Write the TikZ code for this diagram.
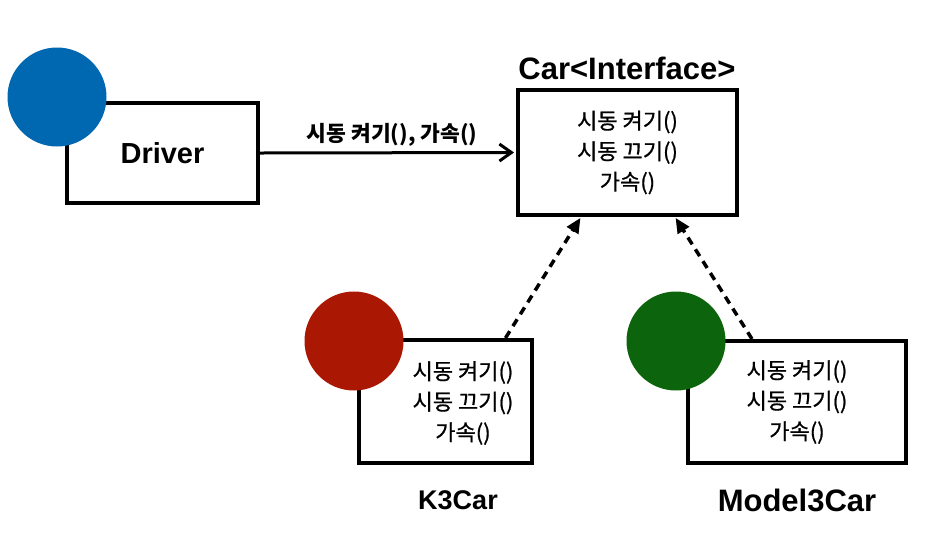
\documentclass[tikz,border=0pt]{standalone}
\usepackage{fontspec}
\setmainfont{Liberation Sans}
\newfontfamily\kr[FakeBold=0.8]{Noto Sans CJK KR}
\newfontfamily\krb{Noto Sans CJK KR}
\usetikzlibrary{arrows.meta}
\definecolor{dotblue}{RGB}{0,103,177}
\definecolor{dotred}{RGB}{170,24,3}
\definecolor{dotgreen}{RGB}{12,100,12}
\begin{document}
\begin{tikzpicture}[x=1pt,y=-1pt,
  box/.style={draw=black,line width=4pt,fill=white,inner sep=0pt},
  title/.style={font=\fontsize{29}{32}\selectfont\bfseries,inner sep=0pt},
  body/.style={font=\kr\fontsize{22}{30.5}\selectfont,align=center,inner sep=0pt},
  dot/.style={circle,inner sep=0pt,minimum size=99pt},
  callarrow/.style={line width=3pt,-{Straight Barb[length=12pt,width=17pt,line width=3pt]},shorten >=2pt},
  implarrow/.style={line width=3.5pt,dash pattern=on 8pt off 6pt,-{Triangle[length=15pt,width=13pt]},shorten >=1pt}
]
\useasboundingbox (0,0) rectangle (928,550);
\fill[white] (0,0) rectangle (928,550);

% boxes
\node[box,minimum width=191pt,minimum height=100pt,title] (driver) at (162.5,153) {Driver};
\node[box,minimum width=219pt,minimum height=125pt,body] (car) at (627.5,152.5)
  {시동 켜기()\\시동 끄기()\\가속()};
\node[title,anchor=base,font=\fontsize{31}{34}\selectfont\bfseries] (cartitle) at (627,79) {Car<Interface>};
\node[box,minimum width=173pt,minimum height=123pt] (k3) at (445.5,401.5) {};
\node[body] (k3txt) at (463,403) {시동 켜기()\\시동 끄기()\\가속()};
\node[box,minimum width=218pt,minimum height=122pt,body] (m3) at (797,402)
  {시동 켜기()\\시동 끄기()\\가속()};
\node[title,font=\fontsize{27}{30}\selectfont\bfseries] (k3name) at (458,500) {K3Car};
\node[title,font=\fontsize{31}{34}\selectfont\bfseries] (m3name) at (797,500) {Model3Car};

% connectors
\draw[callarrow] (driver.east) -- node[midway,above=5pt,xshift=4pt,font=\krb\bfseries\fontsize{21.5}{24}\selectfont,inner sep=0pt] (calllabel) {시동 켜기(), 가속()} (car.west);
\draw[implarrow] ([xshift=148.5pt]k3.north west) -- ([xshift=65pt]car.south west);
\draw[implarrow] ([xshift=66pt]m3.north west) -- ([xshift=-64pt]car.south east);

% dots
\node[dot,fill=dotblue] (drvdot) at (57,97) {};
\node[dot,fill=dotred] (k3dot) at (354,341) {};
\node[dot,fill=dotgreen] (m3dot) at (676,341) {};
\end{tikzpicture}
\end{document}
